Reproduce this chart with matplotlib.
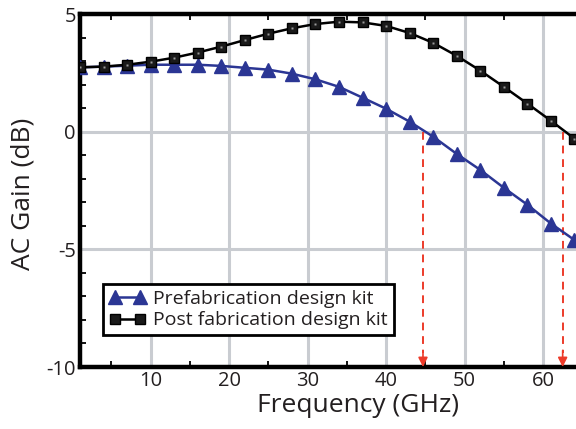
import matplotlib
matplotlib.use('Agg')
import matplotlib.pyplot as plt
from matplotlib.ticker import MultipleLocator

# --- Data ---
freq_ghz = [1, 4, 7, 10, 13, 16, 19, 22, 25, 28, 31, 34,
            37, 40, 43, 46, 49, 52, 55, 58, 61, 64]
prefab_gain = [2.74, 2.77, 2.81, 2.85, 2.85, 2.85, 2.80, 2.72, 2.64, 2.47, 2.23, 1.91,
               1.45, 0.98, 0.43, -0.21, -0.94, -1.62, -2.38, -3.10, -3.90, -4.60]
postfab_gain = [2.74, 2.77, 2.85, 2.98, 3.15, 3.37, 3.62, 3.90, 4.17, 4.40, 4.58, 4.68,
                4.65, 4.50, 4.20, 3.78, 3.23, 2.60, 1.91, 1.20, 0.47, -0.29]
cutoff_ghz = [44.7, 62.5]   # 0 dB crossing markers (red arrows)

x_ticks = [10, 20, 30, 40, 50, 60]
y_ticks = [-10, -5, 0, 5]

BLUE = '#2b3694'
RED = '#ec3b2a'
GRID = '#c9ccd1'
TEXT = '#231f20'

plt.rcParams['font.family'] = ['Open Sans', 'DejaVu Sans']
plt.rcParams['axes.unicode_minus'] = False

fig = plt.figure(figsize=(5.76, 4.29), dpi=100)
ax = fig.add_axes([0.139, 0.1445, 0.861, 0.8225])

ax.plot(freq_ghz, prefab_gain, color=BLUE, lw=1.8, marker='^', ms=10,
        label='Prefabrication design kit', zorder=4)
ax.plot(freq_ghz, postfab_gain, color='black', lw=1.8, marker='s', ms=7,
        mfc='#1a1a1a', label='Post fabrication design kit', zorder=4)
# small light dot inside each square marker
ax.plot(freq_ghz, postfab_gain, ls='none', marker='s', ms=2, mfc='#9a9a9a',
        mec='none', zorder=5)

# red dashed arrows dropping from 0 dB to the axis
for fc in cutoff_ghz:
    ax.plot([fc, fc], [0, -9.4], color=RED, lw=1.4, ls=(0, (4, 3)), zorder=3)
    ax.annotate('', xy=(fc, -10), xytext=(fc, -9.3),
                arrowprops=dict(arrowstyle='-|>', color=RED, lw=1.2,
                                mutation_scale=14, shrinkA=0, shrinkB=0),
                zorder=3)

ax.set_xlim(1, 64.2)
ax.set_ylim(-10, 5)
ax.set_xticks(x_ticks)
ax.set_yticks(y_ticks)
ax.xaxis.set_minor_locator(MultipleLocator(5))
ax.yaxis.set_minor_locator(MultipleLocator(1))
ax.grid(True, which='major', color=GRID, lw=2.2, zorder=0)
ax.set_axisbelow(True)

ax.tick_params(which='both', direction='in', top=True, right=False,
               colors='black', labelcolor=TEXT, labelsize=14.5)
ax.tick_params(which='major', length=0, pad=3)
ax.tick_params(which='minor', length=4, width=1.3)

for side in ['left', 'bottom', 'top']:
    ax.spines[side].set_linewidth(3.2)
ax.spines['right'].set_visible(False)

ax.set_xlabel('Frequency (GHz)', fontsize=19, color=TEXT)
ax.xaxis.set_label_coords(0.56, -0.075)
ax.set_ylabel('AC Gain (dB)', fontsize=19, color=TEXT)
ax.yaxis.set_label_coords(-0.089, 0.49)

leg = ax.legend(loc='lower left', bbox_to_anchor=(0.046, 0.09), fontsize=14,
                numpoints=2, frameon=True, fancybox=False, borderpad=0.3,
                handlelength=1.9, handletextpad=0.4, labelspacing=0.2,
                borderaxespad=0)
leg.get_frame().set_edgecolor('black')
leg.get_frame().set_linewidth(2)
leg.get_frame().set_alpha(1)
for t in leg.get_texts():
    t.set_color(TEXT)

fig.savefig('out.png', dpi=100)
